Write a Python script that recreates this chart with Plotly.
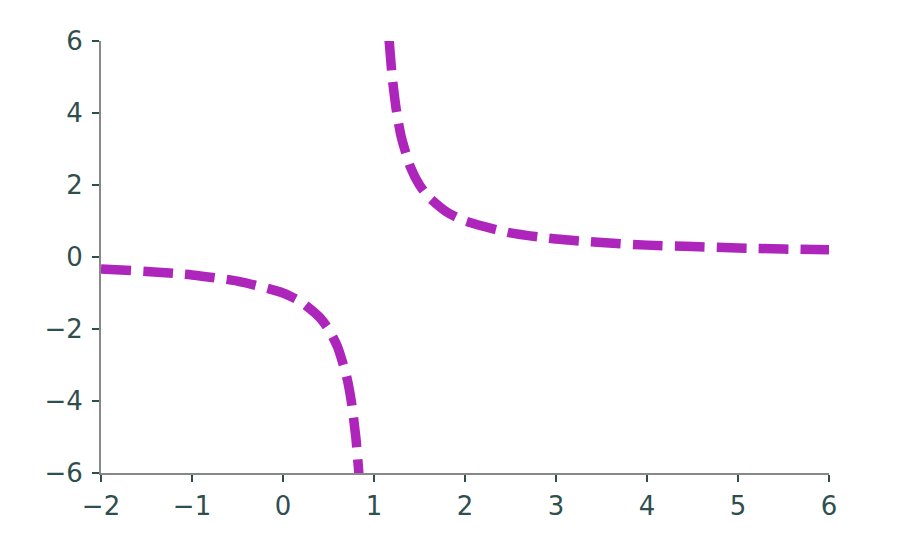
import plotly.graph_objects as go

# Values (two branches of the curve)
left_x = [-2.0, -1.5, -1.0, -0.5, 0.0, 0.2, 0.4, 0.5, 0.6, 0.7, 0.75, 0.8, 0.834]
left_y = [-0.33, -0.4, -0.5, -0.67, -1.0, -1.25, -1.67, -2.0, -2.5, -3.33, -4.0, -5.0, -6.02]
right_x = [1.166, 1.2, 1.25, 1.3, 1.4, 1.5, 1.6, 1.8, 2.0, 2.5, 3.0, 3.5, 4.0, 4.5, 5.0, 5.5, 6.0]
right_y = [6.02, 5.0, 4.0, 3.33, 2.5, 2.0, 1.67, 1.25, 1.0, 0.67, 0.5, 0.4, 0.33, 0.29, 0.25, 0.22, 0.2]

x_ticks = [-2, -1, 0, 1, 2, 3, 4, 5, 6]
y_ticks = [-6, -4, -2, 0, 2, 4, 6]

color = "#AD25BB"
line = dict(color=color, width=9.5, dash="30px,12px", shape="spline", smoothing=0.6)

fig = go.Figure()
fig.add_trace(go.Scatter(x=left_x, y=left_y, mode="lines", line=line, showlegend=False))
fig.add_trace(go.Scatter(x=right_x, y=right_y, mode="lines", line=line, showlegend=False))

axis_common = dict(
    showgrid=False, zeroline=False, showline=True, linecolor="#888888", linewidth=2,
    ticks="outside", ticklen=7, tickwidth=2, tickcolor="#2F4F4F", automargin=False,
    tickfont=dict(family="DejaVu Sans", size=26, color="#2F4F4F"),
)
fig.update_xaxes(range=[-2, 6], tickvals=x_ticks, ticklabelstandoff=2, **axis_common)
fig.update_yaxes(range=[-6, 6], tickvals=y_ticks, ticklabelstandoff=4, **axis_common)

fig.update_layout(
    width=894, height=544,
    margin=dict(l=93, r=73, t=33, b=79),
    plot_bgcolor="white", paper_bgcolor="white",
)
fig.write_html("out.html")
